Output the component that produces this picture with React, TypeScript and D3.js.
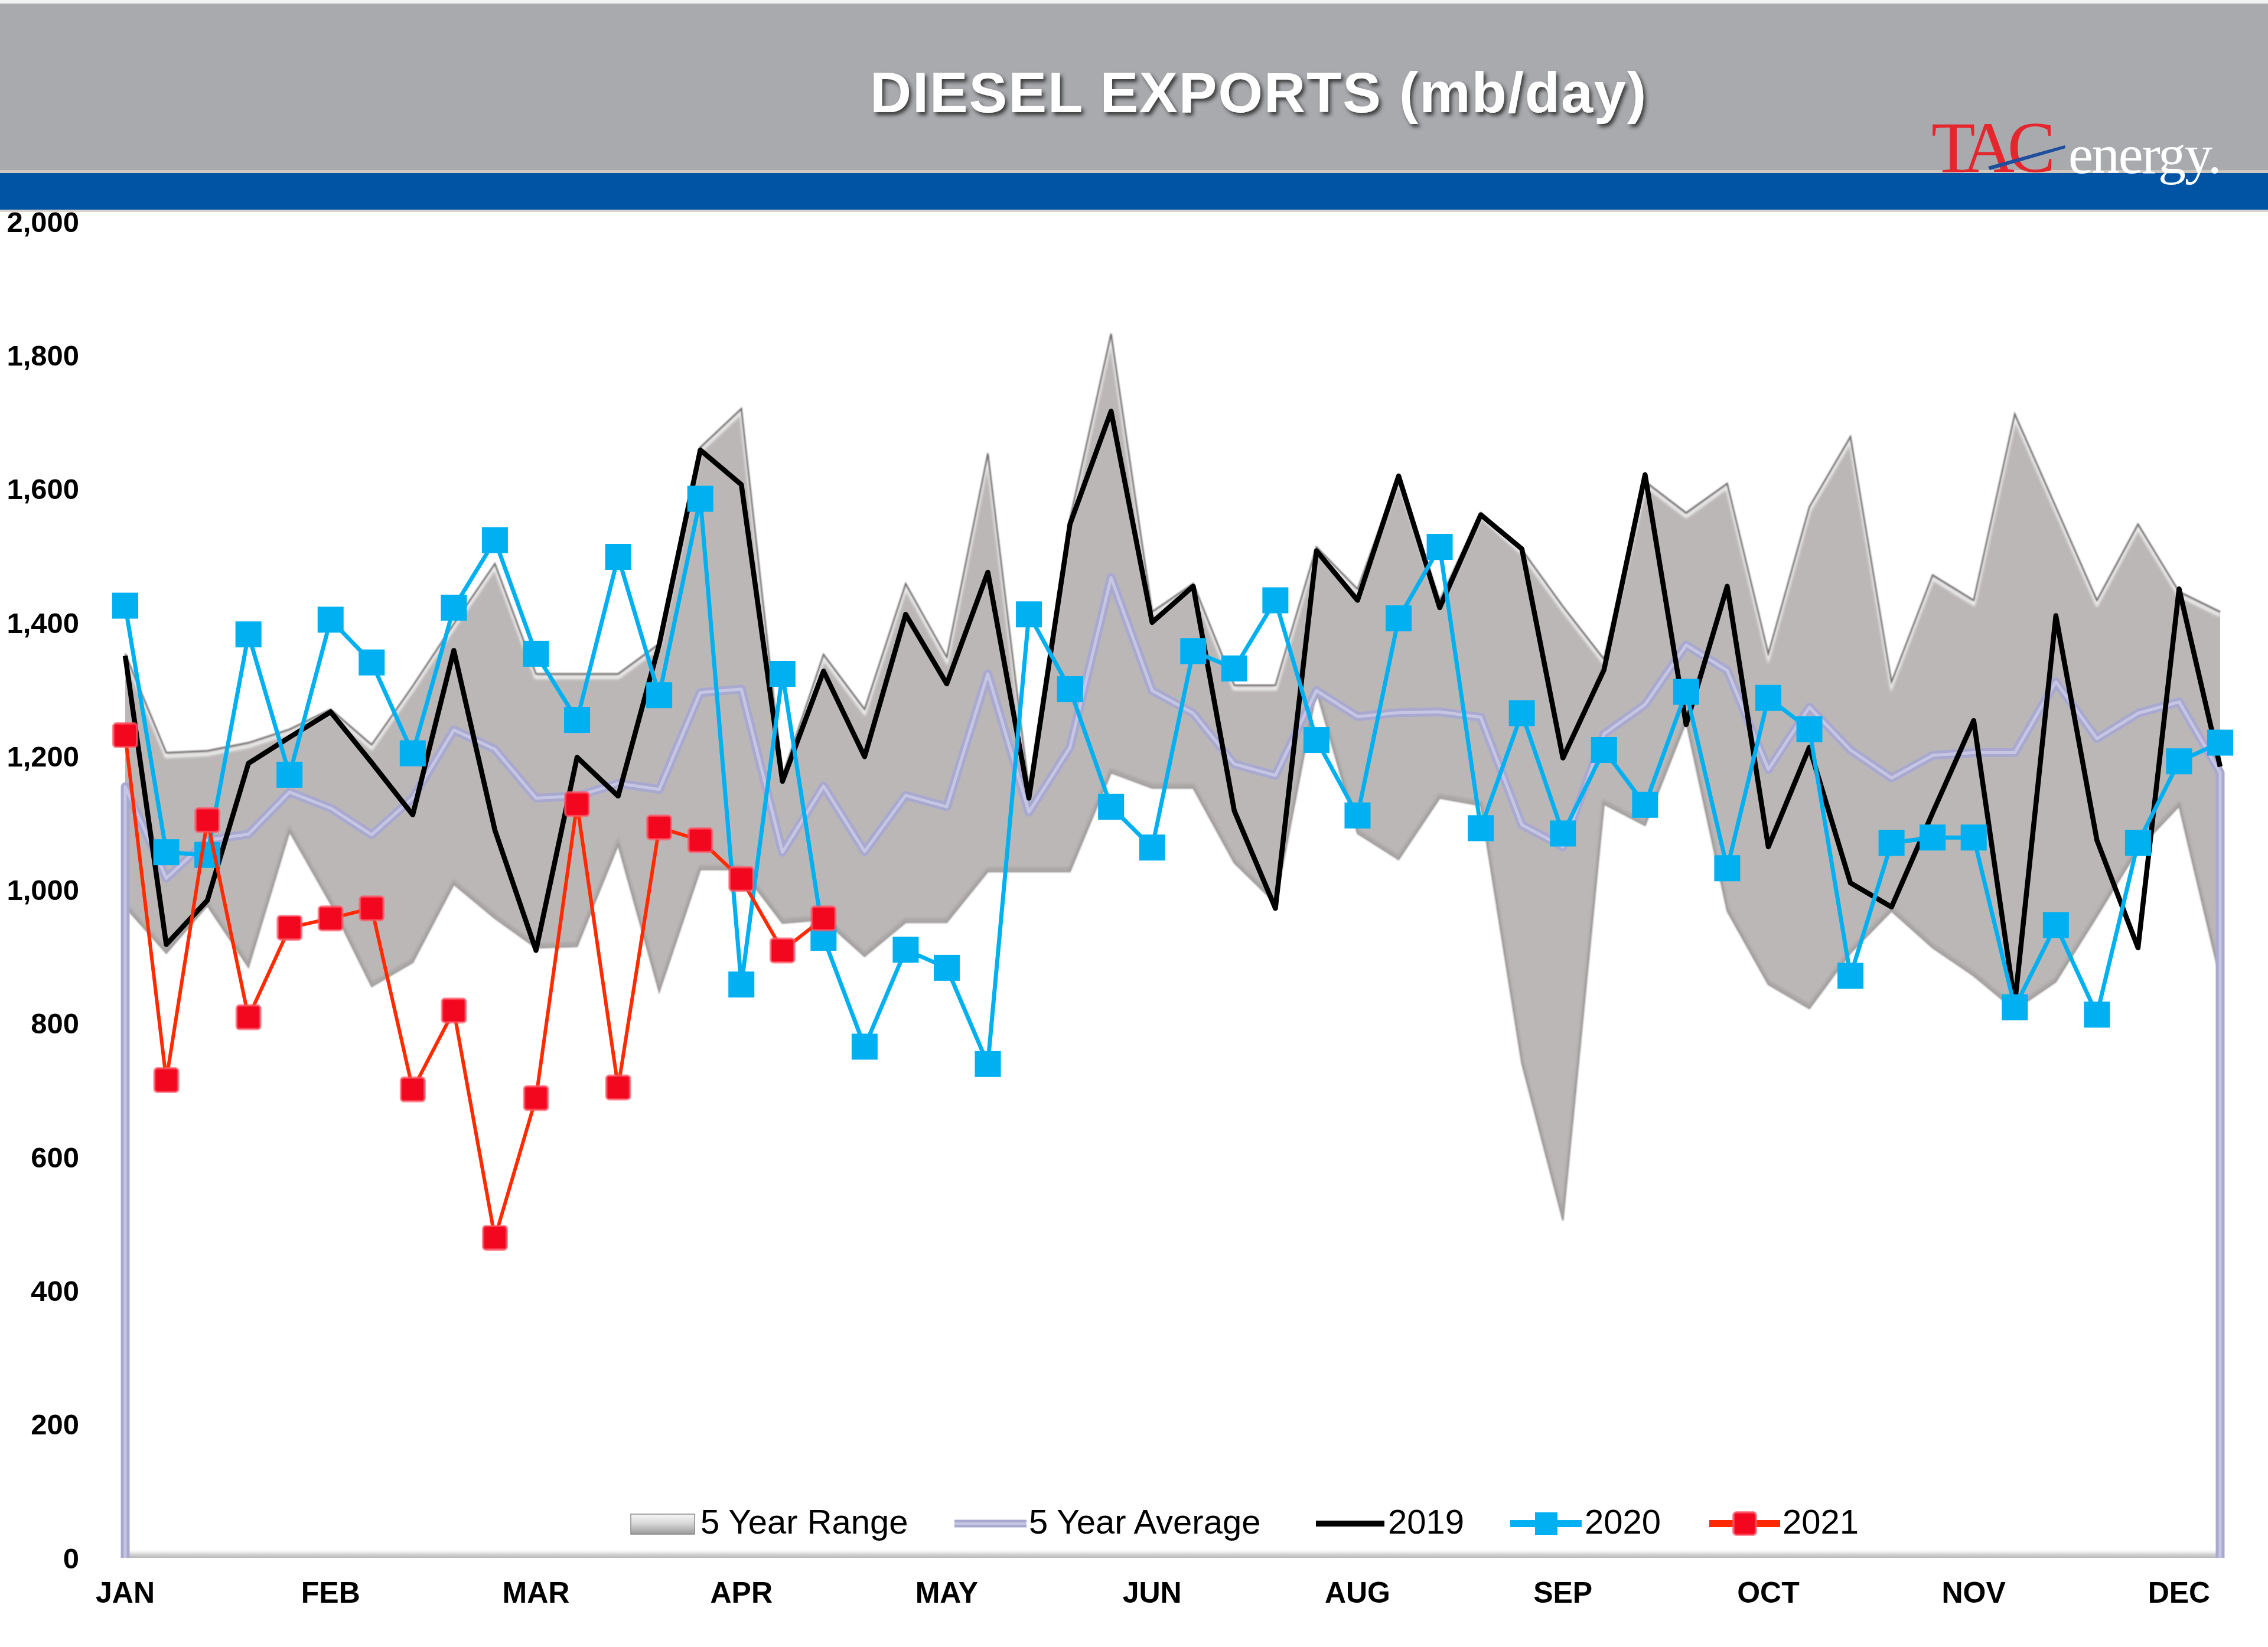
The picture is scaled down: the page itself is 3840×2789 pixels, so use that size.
import React from "react";
import * as d3 from "d3";

// ---- data ----
const WEEKS: number[] = [
  1, 2, 3, 4, 5, 6, 7, 8, 9, 10, 11, 12, 13, 14, 15, 16, 17, 18, 19, 20, 21, 22, 23, 24, 25, 26,
  27, 28, 29, 30, 31, 32, 33, 34, 35, 36, 37, 38, 39, 40, 41, 42, 43, 44, 45, 46, 47, 48, 49, 50, 51, 52,
];
const MONTH_LABELS = ["JAN", "FEB", "MAR", "APR", "MAY", "JUN", "AUG", "SEP", "OCT", "NOV", "DEC"];
const MONTH_LABEL_WEEKS = [1, 6, 11, 16, 21, 26, 31, 36, 41, 46, 51];
const Y_TICKS = [0, 200, 400, 600, 800, 1000, 1200, 1400, 1600, 1800, 2000];

const RANGE_HIGH = [
  1353, 1205, 1208, 1220, 1240, 1270, 1217, 1305, 1398, 1488, 1323, 1323, 1323, 1368, 1662, 1720,
  1170, 1352, 1270, 1458, 1348, 1653, 1150, 1555, 1832, 1416, 1458, 1306, 1306, 1513, 1450, 1619,
  1433, 1564, 1509, 1424, 1345, 1611, 1564, 1608, 1353, 1573, 1678, 1311, 1471, 1433, 1712, 1573,
  1433, 1547, 1446, 1416,
];
const RANGE_LOW = [
  974, 905, 976, 884, 1087, 979, 855, 891, 1008, 957, 913, 915, 1067, 847, 1030, 1030, 950, 955,
  900, 951, 951, 1027, 1027, 1027, 1175, 1152, 1152, 1040, 980, 1297, 1084, 1045, 1137, 1126, 740,
  505, 1128, 1096, 1251, 968, 858, 822, 905, 968, 913, 871, 820, 862, 960, 1060, 1125, 867,
];
const AVG_5Y = [
  1154, 1017, 1074, 1083, 1146, 1122, 1082, 1137, 1239, 1210, 1137, 1140, 1159, 1150, 1295, 1300,
  1056, 1155, 1057, 1141, 1124, 1323, 1116, 1213, 1467, 1298, 1264, 1188, 1171, 1298, 1259, 1265,
  1266, 1258, 1097, 1064, 1233, 1277, 1366, 1328, 1180, 1273, 1209, 1167, 1201, 1205, 1205, 1311,
  1226, 1264, 1281, 1175,
];
const Y2019 = [
  1350, 918, 984, 1189, 1228, 1266, 1190, 1112, 1358, 1089, 909, 1198, 1140, 1367, 1658, 1606,
  1162, 1327, 1199, 1412, 1308, 1475, 1137, 1547, 1716, 1400, 1454, 1118, 972, 1507, 1433, 1619,
  1422, 1561, 1510, 1197, 1329, 1621, 1247, 1454, 1064, 1213, 1010, 974, 1115, 1253, 829, 1410,
  1074, 913, 1450, 1184,
];
const Y2020 = [
  1425, 1056, 1052, 1382, 1172, 1404, 1340, 1204, 1422, 1523, 1353, 1254, 1498, 1291, 1585, 858,
  1323, 928, 765, 910, 883, 739, 1412, 1300, 1124, 1063, 1357, 1331, 1433, 1224, 1111, 1406, 1513,
  1092, 1264, 1084, 1209, 1127, 1296, 1032, 1287, 1240, 871, 1070, 1078, 1078, 824, 947, 813, 1070,
  1192, 1220,
];
const Y2021 = [
  1231, 715, 1104, 809, 943, 957, 972, 701, 819, 479, 688, 1128, 704, 1093, 1074, 1016, 909, 957,
];

const LEGEND_ITEMS = ["5 Year Range", "5 Year Average", "2019", "2020", "2021"];

// ---- layout ----
const W = 3840;
const H = 2789;
const X0 = 212;
const X1 = 3759;
const Y_BOTTOM = 2638;
const Y_TOP = 375;

export default function App() {
  const x = d3.scalePoint<number>().domain(WEEKS).range([X0, X1]);
  const y = d3.scaleLinear().domain([0, 2000]).range([Y_BOTTOM, Y_TOP]);

  const band = d3
    .area<number>()
    .x((_, i) => x(WEEKS[i]) as number)
    .y0((_, i) => y(RANGE_LOW[i]))
    .y1((d) => y(d))
    .curve(d3.curveLinear);
  const bandPath = band(RANGE_HIGH) || "";

  const line = d3
    .line<number>()
    .x((_, i) => x(WEEKS[i]) as number)
    .y((d) => y(d));

  const upperPath = line(RANGE_HIGH) || "";
  const lowerPath = line(RANGE_LOW) || "";

  const avgPts: [number, number][] = AVG_5Y.map((d, i) => [x(WEEKS[i]) as number, y(d)]);
  const avgPath =
    d3.line()([
      [avgPts[0][0], y(0)],
      ...avgPts,
      [avgPts[avgPts.length - 1][0], y(0)],
    ]) || "";

  const p2019 = line(Y2019) || "";
  const p2020 = line(Y2020) || "";
  const p2021 = line(Y2021) || "";

  const mBlue = 44;
  const mRed = 40;

  const font = "'Liberation Sans', Arial, sans-serif";

  // legend geometry
  const legY = 2580;
  const legTextY = 2597;
  const legFont = 58;

  return (
    <svg
      width={W}
      height={H}
      viewBox={`0 0 ${W} ${H}`}
      style={{ position: "absolute", left: 0, top: 0, display: "block", background: "#ffffff" }}
    >
      <defs>
        <filter id="titleShadow" x="-5%" y="-30%" width="110%" height="160%">
          <feDropShadow dx="4" dy="5" stdDeviation="3" floodColor="#2a2a2a" floodOpacity="0.85" />
        </filter>
        <filter id="soft" x="-5%" y="-5%" width="110%" height="110%">
          <feGaussianBlur stdDeviation="2.2" />
        </filter>
        <filter id="soft1" x="-5%" y="-5%" width="110%" height="110%">
          <feGaussianBlur stdDeviation="1.2" />
        </filter>
        <clipPath id="bandClip">
          <path d={bandPath} />
        </clipPath>
        <linearGradient id="legBox" x1="0" y1="0" x2="0" y2="1">
          <stop offset="0" stopColor="#f7f7f7" />
          <stop offset="0.45" stopColor="#d9d9d9" />
          <stop offset="1" stopColor="#9a9a9a" />
        </linearGradient>
        <linearGradient id="axisShade" x1="0" y1="0" x2="0" y2="1">
          <stop offset="0" stopColor="#ffffff" stopOpacity="0" />
          <stop offset="0.6" stopColor="#d6d6d6" />
          <stop offset="1" stopColor="#b8b8b8" />
        </linearGradient>
      </defs>

      {/* header */}
      <rect x={0} y={0} width={W} height={6} fill="#f2f2f2" />
      <rect x={0} y={6} width={W} height={284} fill="#a8aaad" />
      <rect x={0} y={288} width={W} height={5} fill="#cfc8bf" />
      <rect x={0} y={293} width={W} height={62} fill="#0054a3" />
      <rect x={0} y={355} width={W} height={4} fill="#d7d3cf" />

      <text
        x={2131}
        y={190}
        textAnchor="middle"
        fontFamily={font}
        fontWeight="bold"
        fontSize={97}
        letterSpacing={2}
        fill="#ffffff"
        filter="url(#titleShadow)"
      >
        DIESEL EXPORTS (mb/day)
      </text>

      {/* logo */}
      <g>
        <text
          x={3270}
          y={291}
          fontFamily="'Liberation Serif', 'Times New Roman', serif"
          fontSize={122}
          letterSpacing={-12}
          fill="#e5262d"
        >
          TAC
        </text>
        <path d="M3366,282 L3496,246 L3497,251 L3369,288 Z" fill="#1d4f9e" />
        <text
          x={3502}
          y={293}
          fontFamily="'Liberation Serif', 'Times New Roman', serif"
          fontSize={94}
          letterSpacing={-2}
          fill="#ffffff"
        >
          energy.
        </text>
      </g>

      {/* y axis labels */}
      {Y_TICKS.map((t) => (
        <text
          key={t}
          x={134}
          y={y(t)}
          dy="0.36em"
          textAnchor="end"
          fontFamily={font}
          fontWeight="bold"
          fontSize={49}
          fill="#000"
        >
          {d3.format(",")(t)}
        </text>
      ))}

      {/* 5-year range band */}
      <path d={bandPath} fill="#bbb7b7" />
      <g clipPath="url(#bandClip)">
        <path
          d={upperPath}
          transform="translate(0,6)"
          fill="none"
          stroke="#ffffff"
          strokeOpacity={0.75}
          strokeWidth={6}
          filter="url(#soft)"
        />
        <path
          d={lowerPath}
          transform="translate(0,-4)"
          fill="none"
          stroke="#a9a5a5"
          strokeWidth={6}
          filter="url(#soft)"
        />
      </g>
      <path d={upperPath} fill="none" stroke="#6e6a6a" strokeWidth={2.5} filter="url(#soft1)" />
      <path d={lowerPath} fill="none" stroke="#9d9999" strokeWidth={2.5} filter="url(#soft1)" />

      {/* x axis line */}
      <rect x={X0} y={2622} width={X1 - X0 + 3} height={16} fill="url(#axisShade)" />

      {/* 5-year average */}
      <path d={avgPath} fill="none" stroke="#a9a9d0" strokeWidth={15} strokeLinejoin="round" />
      <path d={avgPath} fill="none" stroke="#c6c6e4" strokeWidth={5} strokeLinejoin="round" />

      {/* 2019 */}
      <path d={p2019} fill="none" stroke="#000000" strokeWidth={8.5} strokeLinejoin="round" />

      {/* 2020 */}
      <path d={p2020} fill="none" stroke="#00b0f0" strokeWidth={7} strokeLinejoin="round" />
      {Y2020.map((v, i) => (
        <rect
          key={"b" + i}
          x={(x(WEEKS[i]) as number) - mBlue / 2}
          y={y(v) - mBlue / 2}
          width={mBlue}
          height={mBlue}
          fill="#00b0f0"
        />
      ))}

      {/* 2021 */}
      <path d={p2021} fill="none" stroke="#ff2a00" strokeWidth={6} strokeLinejoin="round" />
      {Y2021.map((v, i) => (
        <rect
          key={"r" + i}
          x={(x(WEEKS[i]) as number) - mRed / 2}
          y={y(v) - mRed / 2}
          width={mRed}
          height={mRed}
          rx={5}
          fill="#f2071f"
          stroke="#ff5a6a"
          strokeOpacity={0.7}
          strokeWidth={4}
        />
      ))}

      {/* x axis labels */}
      {MONTH_LABELS.map((m, i) => (
        <text
          key={m}
          x={x(MONTH_LABEL_WEEKS[i]) as number}
          y={2714}
          textAnchor="middle"
          fontFamily={font}
          fontWeight="bold"
          fontSize={50}
          fill="#000"
        >
          {m}
        </text>
      ))}

      {/* legend */}
      <g fontFamily={font} fontSize={legFont} fill="#000">
        <rect x={1068} y={2564} width={108} height={34} fill="url(#legBox)" stroke="#8a8a8a" strokeWidth={1.5} />
        <text x={1186} y={legTextY}>{LEGEND_ITEMS[0]}</text>

        <line x1={1616} x2={1738} y1={legY} y2={legY} stroke="#a9a9d0" strokeWidth={13} />
        <line x1={1616} x2={1738} y1={legY} y2={legY} stroke="#c6c6e4" strokeWidth={4} />
        <text x={1742} y={legTextY}>{LEGEND_ITEMS[1]}</text>

        <line x1={2228} x2={2344} y1={legY} y2={legY} stroke="#000" strokeWidth={10} />
        <text x={2350} y={legTextY}>{LEGEND_ITEMS[2]}</text>

        <line x1={2557} x2={2678} y1={legY} y2={legY} stroke="#00b0f0" strokeWidth={12} />
        <rect x={2599} y={legY - 19} width={38} height={38} fill="#00b0f0" />
        <text x={2683} y={legTextY}>{LEGEND_ITEMS[3]}</text>

        <line x1={2894} x2={3014} y1={legY} y2={legY} stroke="#ff2a00" strokeWidth={12} />
        <rect x={2935} y={legY - 19} width={38} height={38} rx={5} fill="#f2071f" stroke="#ff5a6a" strokeOpacity={0.7} strokeWidth={4} />
        <text x={3018} y={legTextY}>{LEGEND_ITEMS[4]}</text>
      </g>
    </svg>
  );
}
